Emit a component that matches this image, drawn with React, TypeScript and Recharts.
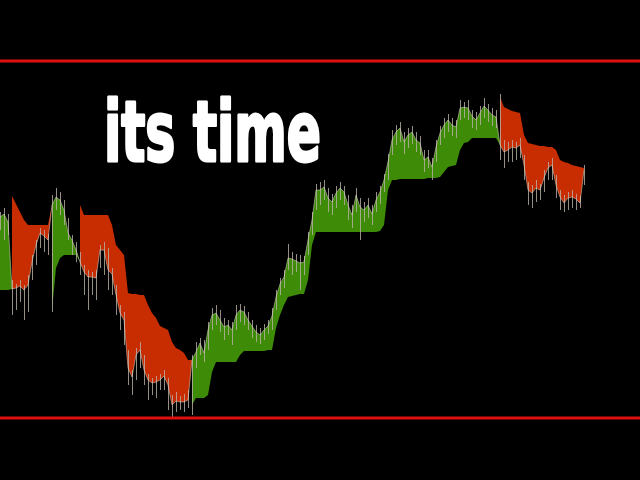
import {
  ComposedChart,
  Area,
  Bar,
  Line,
  XAxis,
  YAxis,
  ReferenceLine,
} from "recharts";

// price per bar
const close = [
  263, 266, 258, 191, 192, 194, 190, 195, 218, 235, 247, 244, 240, 275, 283, 280, 270, 247, 240, 230,
  218, 208, 203, 203, 202, 230, 230, 210, 206, 185, 167, 160, 112, 103, 125, 130, 110, 100, 97, 98,
  100, 104, 95, 75, 79, 78, 78, 80, 120, 128, 137, 127, 150, 165, 167, 160, 153, 155, 150, 165,
  170, 168, 160, 154, 148, 145, 150, 154, 164, 183, 196, 203, 222, 221, 219, 217, 218, 240, 260, 290,
  290, 293, 282, 278, 287, 292, 288, 275, 265, 285, 273, 270, 275, 266, 280, 288, 300, 318, 340, 348,
  352, 338, 345, 348, 340, 337, 320, 323, 313, 333, 347, 355, 360, 355, 353, 372, 373, 372, 364, 360,
  367, 374, 370, 365, 363, 335, 328, 330, 333, 332, 335, 315, 290, 287, 292, 290, 302, 312, 315, 295,
  283, 277, 282, 283, 281, 277, 310,
];

const high = [
  268, 272, 266, 200, 196, 200, 195, 205, 225, 240, 252, 250, 246, 285, 292, 288, 280, 262, 245, 238,
  228, 215, 210, 208, 210, 235, 238, 232, 212, 195, 175, 168, 130, 110, 132, 138, 125, 106, 102, 104,
  106, 110, 102, 85, 88, 84, 86, 90, 125, 138, 142, 140, 158, 172, 175, 170, 162, 160, 158, 175,
  176, 174, 168, 160, 155, 152, 156, 160, 172, 190, 202, 210, 236, 228, 226, 225, 224, 248, 268, 296,
  298, 300, 292, 286, 294, 298, 294, 285, 275, 292, 282, 278, 282, 275, 288, 294, 306, 326, 350, 355,
  358, 348, 352, 354, 348, 344, 330, 330, 322, 340, 354, 362, 366, 362, 360, 380, 378, 380, 370, 368,
  374, 382, 376, 372, 370, 386, 340, 338, 340, 338, 342, 325, 298, 295, 300, 296, 310, 318, 322, 305,
  290, 285, 288, 290, 286, 284, 315,
];

const low = [
  250, 240, 245, 165, 170, 178, 160, 168, 200, 215, 232, 228, 225, 168, 270, 265, 255, 240, 225, 218,
  205, 185, 170, 185, 180, 212, 205, 190, 185, 165, 150, 135, 95, 85, 100, 112, 95, 80, 85, 82,
  90, 90, 70, 62, 68, 70, 68, 72, 65, 112, 125, 118, 130, 150, 155, 148, 140, 145, 135, 150,
  158, 155, 150, 142, 138, 136, 140, 146, 150, 170, 185, 192, 210, 205, 208, 190, 205, 225, 245, 270,
  275, 280, 268, 265, 272, 280, 275, 260, 252, 268, 240, 258, 262, 255, 268, 276, 288, 300, 325, 335,
  338, 326, 332, 336, 328, 325, 308, 312, 300, 318, 335, 342, 348, 344, 342, 360, 362, 360, 352, 350,
  355, 362, 358, 354, 352, 320, 312, 318, 318, 320, 322, 300, 275, 272, 278, 280, 288, 300, 300, 282,
  270, 268, 270, 272, 270, 272, 295,
];

// trailing stop under price (uptrend), null while trend is down
const upStop: (number | null)[] = [
  190, 190, 190, 191, null, null, null, null, null, null, null, null, null, 170, 212, 222, 225, 225, 225, 225,
  218, null, null, null, null, null, null, null, null, null, null, null, null, null, null, null, null, null, null, null,
  null, null, null, null, null, null, null, null, 75, 82, 82, 82, 85, 108, 118, 118, 118, 118, 118, 118,
  125, 129, 129, 129, 129, 129, 129, 130, 130, 152, 165, 175, 183, 184, 185, 186, 186, 200, 235, 248,
  248, 248, 248, 248, 248, 248, 248, 248, 248, 248, 248, 248, 248, 248, 248, 249, 255, 290, 300, 300,
  301, 301, 301, 301, 301, 301, 301, 302, 302, 302, 303, 308, 313, 314, 315, 330, 337, 338, 342, 342,
  342, 342, 342, 342, 342, 335, null, null, null, null, null, null, null, null, null, null, null, null, null, null,
  null, null, null, null, null, null, null,
];

// trailing stop over price (downtrend), null while trend is up
const downStop: (number | null)[] = [
  null, null, null, 284, 276, 268, 260, 255, 255, 255, 255, 255, 255, 275, null, null, null, null, null, null,
  275, 265, 265, 265, 265, 265, 265, 265, 255, 235, 230, 225, 187, 186, 186, 185, 185, 175, 167, 162,
  154, 152, 150, 138, 132, 130, 127, 120, 120, null, null, null, null, null, null, null, null, null, null, null,
  null, null, null, null, null, null, null, null, null, null, null, null, null, null, null, null, null, null, null, null,
  null, null, null, null, null, null, null, null, null, null, null, null, null, null, null, null, null, null, null, null,
  null, null, null, null, null, null, null, null, null, null, null, null, null, null, null, null, null, null, null, null,
  null, null, null, null, null, 383, 373, 371, 369, 368, 367, 345, 337, 336, 335, 334, 334, 333, 333, 330,
  320, 318, 317, 315, 314, 313, 312,
];

const levels = [419, 62];

const RED = "#c82d02";
const GREEN = "#3d8b06";

const data = close.map((c, i) => ({
  bar: i,
  close: c,
  wick: [low[i], high[i]],
  up: upStop[i] == null ? null : [upStop[i], c],
  down: downStop[i] == null ? null : [c, downStop[i]],
}));

export default function App() {
  return (
    <div style={{ position: "fixed", left: 0, top: 0, width: 640, height: 480, background: "#000" }}>
      <ComposedChart width={640} height={480} data={data} margin={{ top: 0, right: 0, bottom: 0, left: 0 }}>
        <XAxis dataKey="bar" type="number" domain={[0, 160]} hide />
        <YAxis type="number" domain={[0, 480]} hide />
        <Bar dataKey="wick" fill="#b9b2a6" fillOpacity={0.8} barSize={1} isAnimationActive={false} />
        <Area
          dataKey="up"
          type="linear"
          stroke="none"
          fill={GREEN}
          fillOpacity={1}
          dot={false}
          activeDot={false}
          isAnimationActive={false}
        />
        <Area
          dataKey="down"
          type="linear"
          stroke="none"
          fill={RED}
          fillOpacity={1}
          dot={false}
          activeDot={false}
          isAnimationActive={false}
        />
        <Line
          dataKey="close"
          type="linear"
          stroke="#e6ddcf"
          strokeOpacity={0.5}
          strokeWidth={1}
          dot={false}
          activeDot={false}
          isAnimationActive={false}
        />
        {levels.map((v) => (
          <ReferenceLine key={v} y={v} stroke="#e01010" strokeWidth={3} />
        ))}
      </ComposedChart>
      <svg width={640} height={480} style={{ position: "absolute", left: 0, top: 0, pointerEvents: "none" }}>
        <text
          x={104}
          y={161}
          fill="#fff"
          stroke="#fff"
          strokeWidth={3}
          strokeLinejoin="round"
          fontSize={84}
          fontWeight="bold"
          fontFamily="'Liberation Sans Narrow', 'DejaVu Sans Condensed', 'Liberation Sans', sans-serif"
          textLength={217}
          lengthAdjust="spacingAndGlyphs"
        >
          its time
        </text>
      </svg>
    </div>
  );
}
